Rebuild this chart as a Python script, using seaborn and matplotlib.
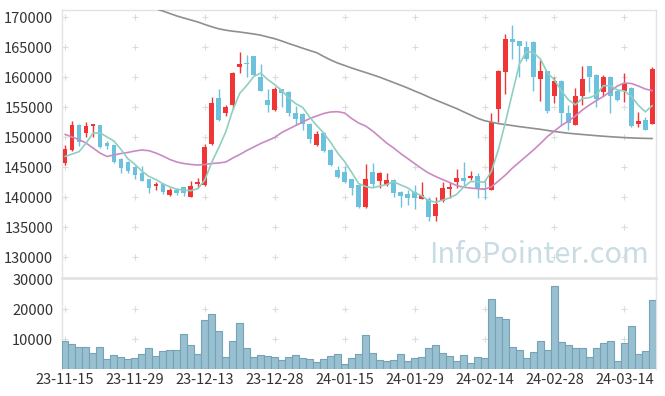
import numpy as np
import pandas as pd
import matplotlib
matplotlib.use("Agg")
import matplotlib.pyplot as plt
import seaborn as sns

# ---------------- data ----------------
date_ticks = ["23-11-15", "23-11-29", "23-12-13", "23-12-28", "24-01-15",
              "24-01-29", "24-02-14", "24-02-28", "24-03-14"]
tick_every = 10

opens = [145800, 147900, 152000, 150800, 151900, 152000, 149000, 148700, 146400, 145900,
         145100, 144000, 143000, 141900, 142300, 140400, 141300, 141700, 140100, 142200,
         142000, 148900, 156500, 154000, 155400, 161700, 162400, 163600, 160000, 156300,
         154500, 158000, 157600, 154000, 153900, 152300, 148700, 150800, 147900, 144500,
         144300, 143000, 142000, 138400, 144200, 142800, 142000, 142900, 140900, 140500,
         140900, 139800, 139700, 136900, 139400, 141400, 142600, 143300, 143300, 143500,
         141450, 141300, 154800, 160900, 166400, 166000, 165000, 165900, 159800, 161000,
         156900, 159400, 154000, 152100, 156900, 161900, 160400, 157500, 160100, 157700,
         157800, 158300, 152200, 152900, 152300]
highs = [148800, 152800, 152200, 152500, 152200, 152100, 149400, 148800, 146500, 146000,
         145300, 145200, 143100, 142600, 142400, 141600, 141600, 141800, 142700, 143200,
         148900, 156700, 158000, 155400, 160900, 164200, 163800, 163600, 162200, 158000,
         158400, 158100, 157700, 155200, 154000, 152400, 151000, 150900, 148000, 145200,
         145300, 143100, 142100, 145500, 145800, 144300, 144000, 143000, 141000, 141300,
         142000, 142600, 140100, 140000, 142500, 142500, 144800, 145900, 144400, 144000,
         143000, 154000, 161200, 167200, 168700, 166100, 166000, 166000, 162900, 161100,
         160100, 159500, 155400, 158300, 161900, 161900, 160500, 160400, 160200, 158000,
         160800, 158400, 154300, 153400, 161800]
lows = [145400, 147800, 148500, 150100, 150000, 148200, 148100, 145700, 144000, 144100,
        143000, 142700, 140800, 141200, 140600, 140300, 140400, 140200, 140100, 141500,
        141900, 148800, 152800, 153500, 154800, 160800, 160000, 160300, 157700, 154300,
        154400, 155100, 153500, 152000, 151200, 149000, 148600, 147500, 145200, 143300,
        142400, 140400, 138300, 138300, 141700, 141500, 141900, 140100, 138400, 138700,
        138000, 139700, 136000, 136100, 139300, 139900, 141500, 141800, 142900, 139900,
        139800, 141200, 152600, 157300, 163000, 160000, 162800, 157800, 156000, 154100,
        155800, 152000, 151200, 152000, 155400, 157600, 155000, 156900, 154000, 156000,
        155900, 151800, 151700, 151300, 152200]
closes = [148000, 152000, 149300, 151900, 152200, 148400, 148500, 145900, 144900, 144400,
          143800, 142800, 141500, 142300, 140900, 141200, 140800, 140700, 141900, 142600,
          148400, 155700, 152900, 155000, 160800, 162300, 162200, 160400, 157800, 155400,
          158000, 157400, 154100, 153100, 152300, 149800, 150500, 147800, 145400, 143400,
          142600, 141600, 138400, 143000, 142300, 144000, 142900, 140800, 140300, 139900,
          139900, 140400, 136800, 138900, 141600, 141800, 143300, 142800, 143600, 141500,
          141400, 152500, 161000, 166400, 165900, 165300, 163000, 160000, 161000, 154400,
          159400, 154000, 152400, 156900, 159700, 160000, 156400, 160000, 156900, 156200,
          159100, 151900, 152700, 151300, 161400]
volumes = [9400, 8400, 7300, 7300, 5400, 7300, 3400, 4700, 4000, 3400,
           3700, 5000, 7000, 4300, 6000, 6300, 6300, 11700, 8000, 5000,
           16300, 18300, 12700, 4000, 9300, 15300, 7000, 4000, 4700, 4300,
           4000, 3000, 4000, 4700, 3700, 3300, 2300, 3300, 4300, 5000,
           1700, 3700, 5000, 11300, 5300, 3000, 2700, 3000, 5000, 2700,
           3700, 4000, 7000, 8000, 5300, 4300, 2700, 4700, 2000, 4000,
           3700, 23300, 17300, 16700, 7300, 6300, 3700, 5700, 9300, 6300,
           27800, 9000, 8000, 7000, 7000, 4000, 7000, 8700, 9300, 2700,
           8700, 14300, 5000, 6000, 23000]
ma5 = [146800, 147200, 147600, 149000, 150680, 150760, 150060, 149380, 147980, 146420,
       145500, 144360, 143480, 142960, 142260, 141740, 141340, 141180, 141100, 141440,
       142880, 145860, 148300, 150920, 154560, 157340, 158640, 160140, 160700, 159620,
       158760, 157800, 156540, 155600, 154980, 153340, 151960, 150700, 149160, 147380,
       145940, 144160, 142280, 141800, 141580, 141860, 142120, 142600, 142060, 141580,
       140760, 140260, 139460, 139180, 139520, 139900, 140480, 141680, 142620, 142600,
       142520, 144360, 148000, 152560, 157440, 162220, 164320, 164120, 163040, 160740,
       159560, 157760, 156240, 155420, 156480, 156600, 157080, 158600, 158600, 157900,
       157720, 156820, 155360, 154240, 155280]
ma20 = [150500, 150050, 149620, 149050, 148220, 147380, 146800, 147050, 147300, 147470,
        147720, 147880, 147770, 147380, 146880, 146300, 145880, 145630, 145470, 145380,
        145470, 145630, 145720, 145880, 146550, 147130, 147800, 148380, 148970, 149470,
        149970, 150800, 151380, 151970, 152550, 153130, 153550, 153970, 154220, 154270,
        154050, 153130, 152380, 151880, 151050, 150050, 149050, 148220, 147300, 146470,
        145630, 144800, 144050, 143470, 142970, 142470, 141970, 141680, 141550, 141430,
        141330, 141770, 142720, 143720, 144880, 145880, 146880, 147880, 148970, 150130,
        151050, 151970, 152720, 153550, 154550, 155380, 156130, 156800, 157630, 158550,
        159050, 158970, 158550, 158050, 157770]
ma_long = [np.nan] * 13 + [
        171400, 171050, 170630, 170220, 169880, 169550, 169220,
        168800, 168420, 168080, 167850, 167680, 167550, 167380, 167220, 167020, 166720,
        166430, 166050, 165630, 165250, 164850, 164470, 164100, 163470, 162880, 162380,
        161970, 161550, 161170, 160800, 160420, 160020, 159580, 159130, 158680, 158220,
        157720, 157250, 156720, 156220, 155750, 155270, 154800, 154250, 153720, 153180,
        152770, 152520, 152280, 152120, 151950, 151780, 151630, 151480, 151330, 151150,
        150970, 150820, 150680, 150570, 150470, 150370, 150270, 150180, 150100, 150020,
        149950, 149900, 149850, 149820, 149800]
price_ticks = [130000, 135000, 140000, 145000, 150000, 155000, 160000, 165000, 170000]
volume_ticks = [10000, 20000, 30000]

# ---------------- frame ----------------
n = len(closes)
idx = np.arange(n)
df = pd.DataFrame({"i": idx, "open": opens, "high": highs, "low": lows,
                   "close": closes, "volume": volumes,
                   "ma5": ma5, "ma20": ma20, "ma_long": ma_long})

sns.set_theme(style="white")
plt.rcParams["font.family"] = ["Noto Sans CJK KR", "DejaVu Sans"]

W, H = 665, 396
fig = plt.figure(figsize=(W / 100, H / 100), dpi=100)
L, R = 61.5, 655.8
ytop, ydiv, ybot = 10, 278.3, 369.3
axp = fig.add_axes([L / W, (H - ydiv) / H, (R - L) / W, (ydiv - ytop) / H])
axv = fig.add_axes([L / W, (H - ybot) / H, (R - L) / W, (ybot - ydiv) / H])

UP, DOWN = "#ef3535", "#6cc1dc"
GRIDC = "#dcdcdc"
FRAME = "#e3e3e3"

# candles
up = df["close"] >= df["open"]
cols = np.where(up, UP, DOWN)
axp.vlines(df["i"], df["low"], df["high"], colors=cols, linewidth=1.0, zorder=3)
body_lo = np.minimum(df["open"], df["close"])
body_h = np.maximum(np.abs(df["close"] - df["open"]), 120)
axp.bar(df["i"], body_h, bottom=body_lo, width=0.68, color=cols, linewidth=0, zorder=4)

# moving averages
sns.lineplot(data=df, x="i", y="ma_long", ax=axp, color="#8f8f8f", linewidth=1.2, zorder=5)
sns.lineplot(data=df, x="i", y="ma20", ax=axp, color="#c98ac4", linewidth=1.2, zorder=5)
sns.lineplot(data=df, x="i", y="ma5", ax=axp, color="#8fcfc2", linewidth=1.2, zorder=5)

# volume
sns.barplot(data=df, x="i", y="volume", ax=axv, color="#98c0d0", saturation=1,
            width=1.0, edgecolor="#74a2b7", linewidth=0.8, zorder=3)

xlim = (-0.5, n - 0.5)
tick_pos = [k * tick_every for k in range(len(date_ticks))]
for ax in (axp, axv):
    ax.set_xlim(*xlim)
    ax.set_xlabel("")
    ax.set_ylabel("")
    ax.tick_params(axis="both", length=0, colors="#333333", labelsize=10.5)
    for s in ("left", "right", "top", "bottom"):
        ax.spines[s].set_color(FRAME)
        ax.spines[s].set_linewidth(1.0)

axp.set_ylim(126500, 171217)
axp.set_yticks(price_ticks)
axp.set_yticklabels([str(v) for v in price_ticks])
axp.set_xticks([])
axp.spines["bottom"].set_visible(False)
axp.tick_params(axis="y", pad=6)

axv.set_ylim(0, 30333)
axv.set_yticks(volume_ticks)
axv.set_yticklabels([str(v) for v in volume_ticks])
axv.set_xticks(tick_pos)
axv.set_xticklabels(date_ticks)
axv.spines["top"].set_linewidth(2.0)
axv.spines["bottom"].set_visible(False)
axv.tick_params(axis="y", pad=6)
axv.tick_params(axis="x", pad=3)

# grid "+" marks
gx, gy = np.meshgrid(tick_pos, price_ticks)
axp.scatter(gx.ravel(), gy.ravel(), marker="+", s=16, color=GRIDC, linewidths=0.8, zorder=1)
gx, gy = np.meshgrid(tick_pos, volume_ticks[:-1])
axv.scatter(gx.ravel(), gy.ravel(), marker="+", s=16, color=GRIDC, linewidths=0.8, zorder=1)

# watermark
axp.text((539 - L) / (R - L), (ydiv - 255) / (ydiv - ytop), "InfoPointer.com",
         transform=axp.transAxes, ha="center", va="center", fontsize=20.8,
         color="#c9dce6", zorder=0, family=["Noto Sans CJK KR", "DejaVu Sans"])

fig.savefig("out.png", dpi=100)
